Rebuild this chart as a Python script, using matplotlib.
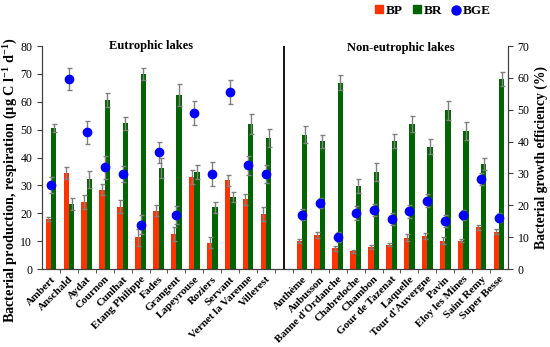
"""Bacterial production, respiration and growth efficiency in eutrophic and non-eutrophic lakes."""

import matplotlib

matplotlib.use("Agg")
import matplotlib.pyplot as plt
import matplotlib.transforms as mtransforms
import numpy as np
from matplotlib.lines import Line2D
from matplotlib.patches import Patch

plt.rcParams["font.family"] = ["Liberation Serif", "DejaVu Serif"]
plt.rcParams["mathtext.fontset"] = "custom"
plt.rcParams["mathtext.rm"] = "Liberation Serif:bold"
plt.rcParams["mathtext.default"] = "rm"

# eutrophic lakes
eu_lakes = ["Ambert", "Anschald", "Aydat", "Cournon", "Cunlhat", "Etang Philippe", "Fades",
            "Grangent", "Lapeyrouse", "Roziers", "Servant", "Vernet la Varenne", "Villerest"]
eu_bp = [18.0, 34.5, 24.1, 28.5, 22.4, 11.4, 20.9, 12.4, 33.1, 9.4, 31.9, 25.0, 19.7]
eu_bp_err = [0.8, 2.2, 2.4, 2.0, 2.3, 3.0, 2.0, 2.5, 2.5, 2.0, 2.0, 2.0, 2.5]
eu_br = [50.6, 23.3, 32.2, 60.5, 52.3, 70.0, 36.2, 62.4, 34.8, 22.1, 25.9, 52.0, 47.0]
eu_br_err = [1.4, 2.3, 3.0, 2.5, 2.3, 2.2, 3.5, 4.0, 2.5, 2.0, 1.8, 3.5, 3.3]
eu_bge = [26.3, 59.6, 42.9, 31.9, 29.9, 13.9, 36.6, 16.9, 49.0, 29.9, 55.5, 32.6, 29.7]
eu_bge_err = [2.5, 3.4, 3.7, 3.5, 2.5, 3.0, 3.3, 2.9, 3.8, 3.8, 3.8, 3.0, 2.8]

# non-eutrophic lakes
ne_lakes = ["Anthème", "Aubusson", "Banne d'Ordanche", "Chabreloche", "Chambon",
            "Gour de Tazenat", "Laquelle", "Tour d'Auvergne", "Pavin", "Eloy les Mines",
            "Saint Remy", "Super Besse"]
ne_bp = [10.1, 12.1, 7.4, 6.3, 7.8, 8.7, 11.3, 11.9, 10.2, 10.1, 14.9, 13.4]
ne_bp_err = [0.8, 1.0, 0.8, 0.6, 0.7, 0.6, 1.3, 1.0, 1.3, 0.5, 1.0, 0.8]
ne_br = [48.2, 45.8, 66.8, 29.8, 34.9, 45.9, 51.9, 43.9, 56.9, 49.5, 37.7, 68.1]
ne_br_err = [3.0, 2.4, 2.7, 2.4, 3.2, 2.5, 2.9, 2.7, 3.3, 3.2, 2.2, 2.4]
ne_bge = [17.1, 20.8, 10.0, 17.6, 18.5, 15.7, 18.1, 21.4, 15.1, 17.0, 28.3, 16.1]
ne_bge_err = [1.8, 1.5, 1.5, 2.2, 2.0, 2.0, 2.0, 2.0, 2.0, 1.5, 1.8, 1.5]

RED = "#ff3300"
GREEN = "#006400"
BLUE = "#0000ff"
ERR = "#808080"

x = np.concatenate([np.arange(len(eu_lakes)), np.arange(len(eu_lakes) + 1, len(eu_lakes) + 1 + len(ne_lakes))])
lakes = eu_lakes + ne_lakes
bp = eu_bp + ne_bp
bp_err = eu_bp_err + ne_bp_err
br = eu_br + ne_br
br_err = eu_br_err + ne_br_err
bge = eu_bge + ne_bge
bge_err = eu_bge_err + ne_bge_err
divider = len(eu_lakes)

fig = plt.figure(figsize=(5.5, 3.47), dpi=100)
ax = fig.add_axes([42 / 550, 1 - 269 / 347, 466 / 550, 223 / 347])
ax2 = ax.twinx()

err_kw = dict(ecolor=ERR, elinewidth=1, capsize=1.8, capthick=1)
ax.bar(x - 0.15, bp, 0.3, color=RED, yerr=bp_err, error_kw=err_kw)
ax.bar(x + 0.15, br, 0.3, color=GREEN, yerr=br_err, error_kw=err_kw)
ax2.errorbar(x, bge, yerr=bge_err, fmt="o", color=BLUE, ms=6, ecolor=ERR,
             elinewidth=1, capsize=1.8, capthick=1)

ax.axvline(divider, color="black", lw=1.3)

ax.set_xlim(-0.5, x[-1] + 0.5)
ax.set_ylim(0, 80)
ax2.set_ylim(0, 70)
ax.set_yticks(np.arange(0, 81, 10))
ax2.set_yticks(np.arange(0, 71, 10))

ax.set_xticks(x)
ax.set_xticklabels(lakes, rotation=45, ha="right", rotation_mode="anchor",
                   fontsize=8, fontweight="bold")
shift = mtransforms.ScaledTranslation(5 / 100, -3 / 100, fig.dpi_scale_trans)
for lab in ax.get_xticklabels():
    lab.set_transform(lab.get_transform() + shift)
ax.set_xticks(np.arange(0.5, x[-1], 1), minor=True)
ax.tick_params(axis="x", which="major", length=0, pad=4)
ax.tick_params(axis="x", which="minor", length=3, color="#404040")
ax.tick_params(axis="y", labelsize=8.5, length=3.5, color="#404040")
ax2.tick_params(axis="y", labelsize=8.5, length=3.5, color="#404040")

for a in (ax, ax2):
    a.spines["top"].set_visible(False)
    for side in ("left", "right", "bottom"):
        a.spines[side].set_color("#404040")

ax.set_ylabel(r"Bacterial production, respiration (µg C l$^{-1}$ d$^{-1}$)",
              fontsize=10.3, fontweight="bold")
ax.yaxis.set_label_coords(-0.048, 0.40)
ax2.set_ylabel("Bacterial growth efficiency (%)", fontsize=9.8, fontweight="bold")
ax2.yaxis.set_label_coords(1.056, 0.5)

ax.text(5.6, 80, "Eutrophic lakes", ha="center", va="center", fontsize=9, fontweight="bold")
ax.text(19.5, 79.3, "Non-eutrophic lakes", ha="center", va="center", fontsize=9,
        fontweight="bold")

handles = [
    Patch(color=RED, label="BP"),
    Patch(color=GREEN, label="BR"),
    Line2D([], [], marker="o", ls="", color=BLUE, ms=6.5, label="BGE"),
]
fig.legend(handles=handles, loc="upper center", bbox_to_anchor=(0.787, 1.02), ncol=3,
           frameon=False, handlelength=0.6, handleheight=0.6, handletextpad=0.2,
           columnspacing=0.8, prop=dict(size=9.5, weight="bold"))

fig.savefig("out.png", dpi=100)
